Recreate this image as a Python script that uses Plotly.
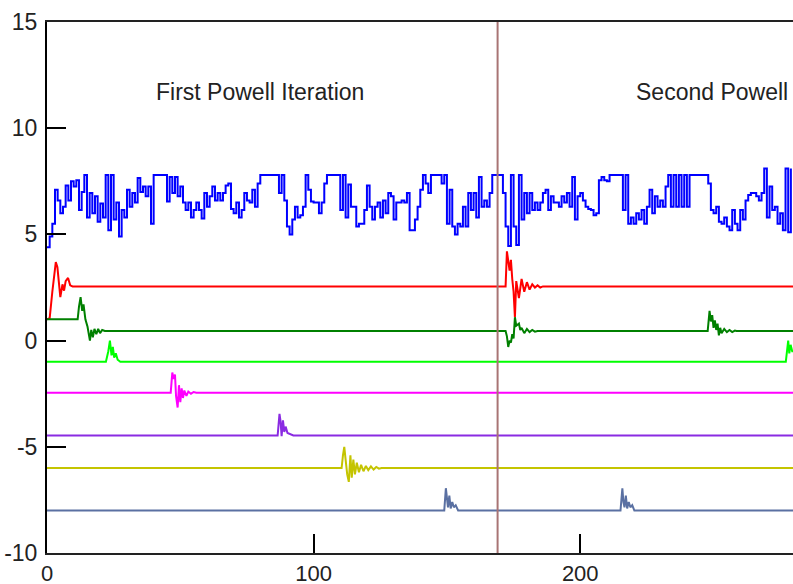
import plotly.graph_objects as go

# ---------------- data ----------------
blue_y = [
    4.4, 4.9, 5.5, 7.1, 6.6, 6.0, 6.3, 7.3, 6.6, 7.5,
    7.25, 7.55, 6.15, 7.0, 7.8, 5.8, 6.95, 6.0, 6.8, 5.6,
    6.45, 5.8, 7.8, 5.2, 7.8, 5.7, 6.5, 4.9, 6.15, 5.8,
    7.1, 6.3, 6.95, 6.5, 7.65, 7.0, 7.25, 6.8, 7.25, 5.5,
    7.8, 7.8, 7.8, 7.8, 7.8, 6.55, 7.7, 6.95, 7.7, 6.8,
    7.25, 6.5, 6.15, 6.5, 5.8, 6.15, 6.5, 6.15, 5.75, 6.95,
    6.3, 6.8, 7.25, 6.6, 6.95, 6.6, 6.95, 7.3, 7.4, 6.2,
    6.0, 6.5, 5.8, 6.15, 6.95, 6.6, 6.5, 7.1, 6.3, 7.4,
    7.8, 7.8, 7.8, 7.8, 7.8, 7.8, 7.8, 6.95, 7.8, 6.6,
    5.37, 5.0, 5.7, 6.3, 5.8, 5.9, 6.3, 7.8, 7.1, 6.55,
    6.5, 6.5, 6.0, 6.5, 7.4, 7.8, 7.8, 7.8, 7.8, 7.8,
    6.15, 7.8, 5.8, 7.35, 6.3, 6.3, 5.37, 5.5, 5.5, 6.15,
    7.3, 6.3, 5.7, 6.3, 6.5, 5.8, 6.6, 6.0, 6.95, 6.8,
    5.7, 6.5, 6.5, 6.6, 6.5, 6.95, 5.2, 5.2, 5.7, 6.3,
    7.1, 7.8, 7.4, 6.95, 7.8, 7.8, 7.8, 7.8, 7.4, 7.8,
    5.5, 7.1, 5.37, 5.0, 5.5, 5.37, 6.3, 5.37, 6.95, 6.15,
    6.95, 5.8, 7.7, 6.3, 6.6, 6.3, 6.95, 7.8, 7.8, 7.8,
    7.8, 6.95, 5.37, 4.45, 7.8, 5.37, 4.5, 7.8, 5.7, 6.95,
    6.0, 6.95, 6.15, 6.5, 6.15, 6.5, 6.95, 7.1, 6.15, 6.8,
    6.5, 6.5, 6.3, 6.8, 6.5, 6.95, 6.3, 7.7, 5.7, 6.8,
    6.95, 6.6, 6.3, 6.2, 6.15, 5.9, 6.0, 7.55, 7.7, 7.55,
    7.5, 7.8, 7.8, 7.8, 7.8, 7.8, 6.15, 7.8, 5.5, 5.8,
    5.5, 6.0, 5.7, 6.15, 5.5, 6.3, 7.1, 6.0, 6.8, 6.3,
    6.6, 6.3, 7.25, 7.8, 6.3, 7.8, 6.3, 7.8, 6.3, 7.8,
    6.3, 7.8, 7.8, 7.8, 7.8, 7.8, 7.8, 7.8, 7.4, 6.15,
    6.0, 6.3, 5.6, 5.5, 5.8, 5.37, 5.2, 6.15, 5.5, 5.2,
    6.15, 5.7, 6.6, 6.85, 6.95, 6.95, 6.8, 6.6, 6.95, 8.1,
    5.8, 7.25, 6.15, 6.3, 5.5, 6.0, 5.2, 8.1, 5.1, 8.1,
]
blue_x = list(range(len(blue_y)))

red_x = [0, 1, 2, 2.8, 3.3, 3.9, 4.4, 5.0, 5.8, 6.4, 7.0, 7.9, 8.7, 9.6,
         172, 172.5, 173.5, 174, 174.5, 175, 175.5, 176, 177, 178, 179, 180,
         181, 182, 183, 184, 185, 186, 187, 280]
red_y = [1.0, 1.05, 2.3, 3.2, 3.7, 3.45, 2.85, 2.05, 2.65, 2.35, 2.8, 2.95, 2.6, 2.55,
         2.55, 4.2, 3.3, 3.8, 2.9, 2.3, 1.1, 2.8, 2.0, 2.9, 2.3, 2.75,
         2.4, 2.65, 2.5, 2.6, 2.5, 2.55, 2.55, 2.55]

dkgreen_x = [0, 11.5, 12.0, 12.6, 13.2, 13.7, 14.4, 15.2, 16.1, 16.6, 17.2, 17.8,
             18.5, 19.2, 19.9, 20.7, 21.7,
             172, 172.5, 173, 173.5, 174, 174.5, 175, 175.5, 176, 177, 177.5, 178,
             179, 180, 181, 182, 183, 184,
             247.8, 248.5, 249, 249.5, 250, 250.5, 251, 251.5, 252, 252.5, 253,
             254, 255, 256, 257, 258, 258.6, 280]
dkgreen_y = [1.0, 1.0, 1.6, 2.05, 1.4, 1.7, 1.0, 0.65, 0.0, 0.5, 0.15, 0.55,
             0.3, 0.55, 0.35, 0.5, 0.45,
             0.45, 0.2, -0.3, 0.0, -0.1, 0.3, 0.1, 1.1, 0.7, 0.8, 0.5, 0.6,
             0.35, 0.55, 0.4, 0.5, 0.42, 0.45,
             0.45, 1.4, 0.9, 1.2, 0.6, 0.95, 0.5, 0.8, 0.25, 0.6, 0.35,
             0.55, 0.4, 0.5, 0.4, 0.47, 0.45, 0.45]

ltgreen_x = [0, 22.1, 23.0, 23.6, 24.2, 24.7, 25.2, 25.8, 26.5, 27.5,
             277.1, 277.6, 278.0, 278.4, 278.9, 279.5, 280]
ltgreen_y = [-1.0, -1.0, -0.5, 0.0, -0.7, -0.3, -0.8, -0.6, -0.9, -1.0,
             -1.0, -0.4, 0.0, -0.6, -0.2, -0.5, -0.5]

magenta_x = [0, 46.4, 47.0, 47.5, 48.0, 48.4, 49.0, 49.5, 50.0, 50.5, 51.0, 51.5,
             52.3, 53.0, 54.0, 55.0, 56.0, 280]
magenta_y = [-2.45, -2.45, -1.5, -1.8, -1.6, -2.6, -3.15, -2.1, -2.9, -2.25, -2.7, -2.35,
             -2.6, -2.4, -2.5, -2.42, -2.45, -2.45]

purple_x = [0, 86.5, 87.2, 87.6, 88.0, 88.5, 89.0, 89.5, 90.2, 91.0, 92.4, 280]
purple_y = [-4.47, -4.47, -3.45, -3.8, -4.5, -3.75, -4.3, -4.05, -4.35, -4.4, -4.47, -4.47]

olive_x = [0, 110.5, 111.0, 111.5, 112.0, 112.6, 113.2, 113.8, 114.3, 114.9, 115.5,
           116.2, 117.0, 117.8, 118.7, 119.6, 120.5, 121.5, 122.5, 123.5, 124.5, 125.5, 280]
olive_y = [-6.0, -6.0, -5.4, -5.0, -5.6, -6.3, -6.65, -5.4, -6.45, -5.6, -6.3,
           -5.75, -6.2, -5.85, -6.15, -5.9, -6.1, -5.92, -6.07, -5.95, -6.03, -6.0, -6.0]

slate_x = [0, 149.0, 149.6, 150.0, 150.4, 150.9, 151.4, 152.0, 152.6, 153.3, 154.2,
           215.1, 215.8, 216.2, 216.6, 217.1, 217.6, 218.2, 218.8, 219.5, 220.3, 280]
slate_y = [-8.0, -8.0, -6.95, -7.6, -7.85, -7.3, -7.9, -7.6, -7.85, -7.75, -8.0,
           -8.0, -6.95, -7.6, -7.85, -7.3, -7.9, -7.6, -7.85, -7.75, -8.0, -8.0]

marker_x = 169
labels = ["First Powell Iteration", "Second Powell Iteration"]
label_x = [40.2, 220.3]
label_y = [11.7, 11.7]

x_ticks = [0, 100, 200]
x_ticktext = ["0", "100", "200"]
y_ticks = [-10, -5, 0, 5, 10, 15]
y_ticktext = ["-10", "-5", "0", "5", "10", "15"]

# ---------------- figure ----------------
fig = go.Figure()
series = [
    (blue_x, blue_y, "#0000ff", "hv"),
    (red_x, red_y, "#ff0000", "linear"),
    (dkgreen_x, dkgreen_y, "#008000", "linear"),
    (ltgreen_x, ltgreen_y, "#00ff00", "linear"),
    (magenta_x, magenta_y, "#ff00ff", "linear"),
    (purple_x, purple_y, "#8a2be2", "linear"),
    (olive_x, olive_y, "#c4c400", "linear"),
    (slate_x, slate_y, "#5a70a2", "linear"),
]
for xs, ys, col, shape in series:
    fig.add_trace(go.Scatter(x=xs, y=ys, mode="lines",
                             line=dict(color=col, width=2, shape=shape),
                             showlegend=False, hoverinfo="skip"))

fig.add_shape(type="line", xref="x", yref="paper", x0=marker_x, x1=marker_x,
              y0=0, y1=1, line=dict(color="#a87474", width=2), layer="above")

for t, lx, ly in zip(labels, label_x, label_y):
    fig.add_annotation(x=lx, y=ly, xref="x", yref="y", text=t, showarrow=False,
                       xanchor="left", yanchor="middle",
                       font=dict(family="Liberation Sans, Arial", size=23, color="#222222"))

fig.update_layout(
    width=793, height=584,
    margin=dict(l=47, r=0, t=22, b=31),
    paper_bgcolor="white", plot_bgcolor="white",
    font=dict(family="Liberation Sans, Arial", size=23, color="#222222"),
)
fig.update_xaxes(range=[0, 279.8], tickvals=x_ticks, ticktext=x_ticktext,
                 ticks="inside", ticklen=19,
                 tickwidth=2, tickcolor="black", showgrid=False, zeroline=False,
                 showline=True, linecolor="#222222", linewidth=2, mirror=True,
                 automargin=False, tickfont=dict(size=22), ticklabelstandoff=0)
fig.update_yaxes(range=[-10, 15], tickvals=y_ticks, ticktext=y_ticktext,
                 ticks="inside", ticklen=19,
                 tickwidth=2, tickcolor="black", showgrid=False, zeroline=False,
                 showline=True, linecolor="black", linewidth=2,
                 automargin=False, tickfont=dict(size=23), ticklabelstandoff=3)

fig.write_html(
    "out.html",
    config={"displayModeBar": False},
    post_script=("document.documentElement.style.overflow='hidden';"
                 "document.body.style.margin='0';"
                 "document.body.style.overflow='hidden';"),
)
